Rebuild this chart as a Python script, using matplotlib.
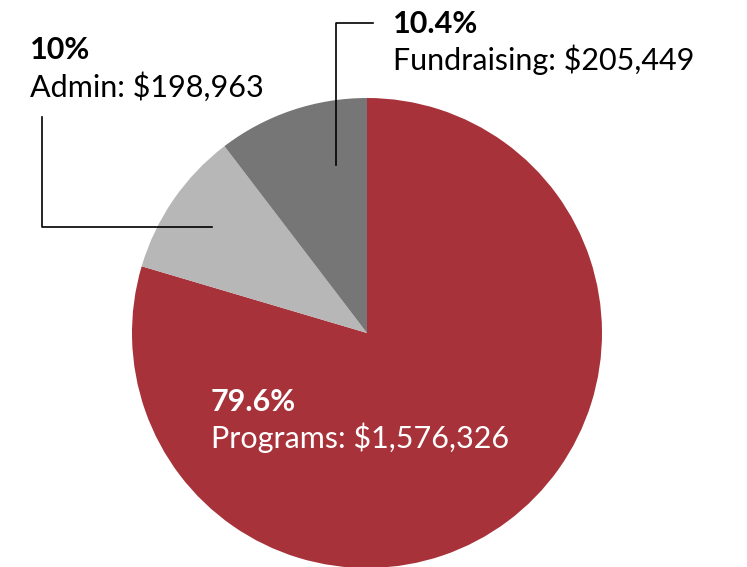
import matplotlib.pyplot as plt

labels = ['Programs', 'Admin', 'Fundraising']
amounts = [1576326, 198963, 205449]
pct_labels = ['79.6%', '10%', '10.4%']
colors = ['#A8323A', '#B7B7B7', '#757675']

plt.rcParams['font.family'] = ['Lato', 'DejaVu Sans']

fig = plt.figure(figsize=(7.47, 5.67), dpi=100)
ax = fig.add_axes([0, 0, 1, 1])

# y axis is flipped below, so counterclock here draws clockwise on screen from the top
ax.pie(amounts, colors=colors, startangle=-90, counterclock=True,
       center=(367, 333), radius=235, frame=True,
       wedgeprops=dict(linewidth=0))
ax.set_xlim(0, 747)
ax.set_ylim(567, 0)  # pixel-like coords, y down
ax.axis('off')

fs = 22
# (x, baseline of pct, baseline of label, text colour)
spots = [(211, 411, 448, 'white'), (30, 59, 97, 'black'), (393, 33, 70, 'black')]
for (x, y1, y2, c), name, amt, p in zip(spots, labels, amounts, pct_labels):
    ax.text(x, y1, p, fontsize=fs, fontweight='bold', color=c, va='baseline')
    ax.text(x, y2, f'{name}: ${amt:,}', fontsize=fs, color=c, va='baseline')

# leader lines
ax.plot([42, 42, 212], [117, 227, 227], color='black', lw=1.2)
ax.plot([373, 336, 336], [23, 23, 165], color='black', lw=1.2)

fig.savefig('out.png', dpi=100)
